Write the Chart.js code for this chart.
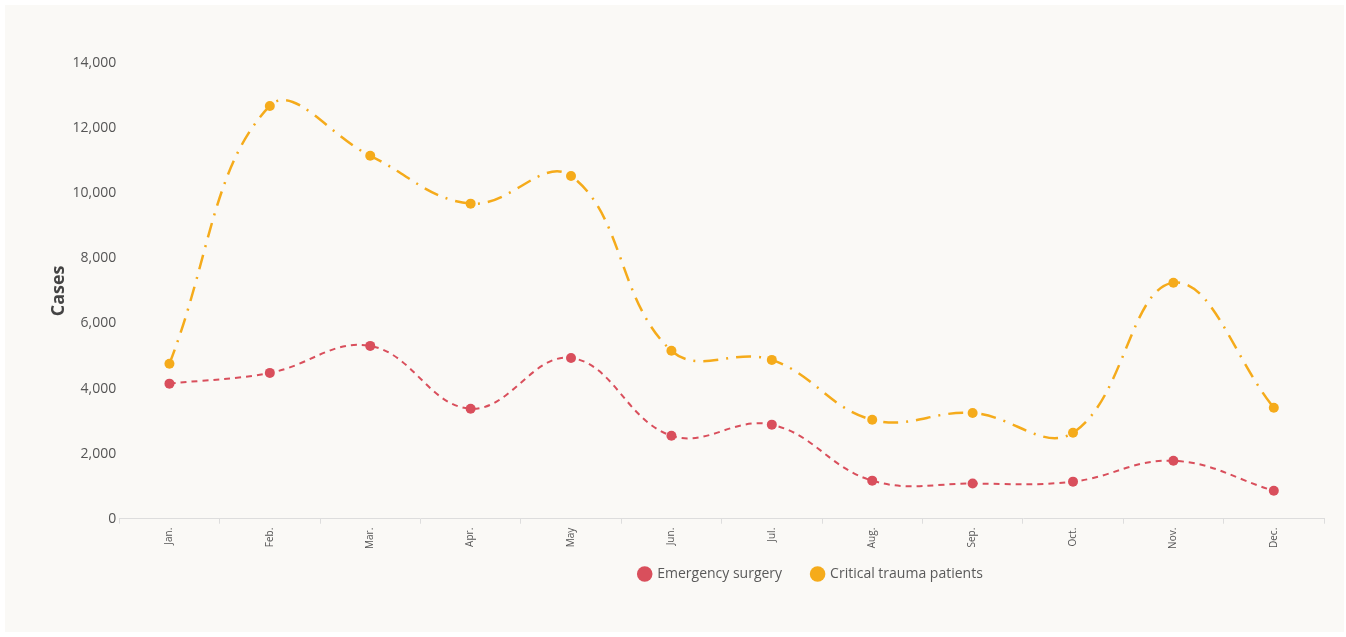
<!DOCTYPE html>
<html>
<head>
<meta charset="utf-8">
<script src="https://cdn.jsdelivr.net/npm/chart.js@4/dist/chart.umd.min.js"></script>
<style>
  html, body { margin: 0; padding: 0; background: #ffffff; }
  #panel { position: absolute; left: 5px; top: 5px; width: 1339px; height: 627px; background: #faf9f6; }
</style>
</head>
<body>
<div id="panel"><canvas id="grafico" width="1339" height="627"></canvas></div>
<script>
var meses = ['Jan.', 'Feb.', 'Mar.', 'Apr.', 'May', 'Jun.', 'Jul.', 'Aug.', 'Sep.', 'Oct.', 'Nov.', 'Dec.'];
var cirugiaUrgencia = [4150, 4480, 5310, 3380, 4940, 2550, 2890, 1170, 1080, 1140, 1780, 860];
var traumaCritico = [4760, 12680, 11150, 9680, 10530, 5160, 4880, 3040, 3250, 2640, 7250, 3410];
var ticksY = [0, 2000, 4000, 6000, 8000, 10000, 12000, 14000];

var rojo = '#d94f5c';
var naranja = '#f5ab1b';

// mover la leyenda como en la imagen
var moverLeyenda = {
    id: 'moverLeyenda',
    afterLayout: function(chart) {
        var dx = 125, dy = -16;
        chart.legend.left += dx;
        chart.legend.right += dx;
        chart.legend.top += dy;
        chart.legend.bottom += dy;
    }
};

var ctx = document.getElementById('grafico').getContext('2d');
var chart = new Chart(ctx, {
    type: 'line',
    data: {
        labels: meses,
        datasets: [{
            label: 'Emergency surgery',
            data: cirugiaUrgencia,
            borderColor: rojo,
            backgroundColor: rojo,
            borderWidth: 2,
            borderDash: [6, 5],
            pointRadius: 5,
            pointBorderWidth: 0,
            pointBackgroundColor: rojo,
            tension: 0.4
        }, {
            label: 'Critical trauma patients',
            data: traumaCritico,
            borderColor: naranja,
            backgroundColor: naranja,
            borderWidth: 2.5,
            borderDash: [15, 8, 2, 8],
            pointRadius: 5,
            pointBorderWidth: 0,
            pointBackgroundColor: naranja,
            tension: 0.4
        }]
    },
    options: {
        responsive: false,
        animation: false,
        layout: { padding: { left: 43, right: 20, top: 58, bottom: 25 } },
        plugins: {
            legend: {
                position: 'bottom',
                labels: {
                    usePointStyle: true,
                    pointStyle: 'circle',
                    boxWidth: 11,
                    boxHeight: 11,
                    padding: 30,
                    color: '#5a5a5a',
                    font: { family: 'Open Sans', size: 14 }
                }
            },
            tooltip: { enabled: false }
        },
        scales: {
            x: {
                offset: true,
                grid: {
                    display: true,
                    offset: true,
                    drawOnChartArea: false,
                    drawTicks: true,
                    tickLength: 5,
                    color: '#dddddd'
                },
                border: { display: true, color: '#dddddd' },
                ticks: {
                    minRotation: 90,
                    maxRotation: 90,
                    padding: 4,
                    color: '#555555',
                    font: { family: 'Open Sans', size: 10 }
                }
            },
            y: {
                min: 0,
                max: 14000,
                afterBuildTicks: function(axis) {
                    axis.ticks = ticksY.map(function(v) { return { value: v }; });
                },
                grid: { display: false, drawTicks: false },
                border: { display: false },
                ticks: {
                    padding: 3,
                    color: '#555555',
                    font: { family: 'Open Sans', size: 14 },
                    callback: function(v) { return v.toLocaleString('en-US'); }
                },
                title: {
                    display: true,
                    text: 'Cases',
                    color: '#444444',
                    padding: { top: 0, bottom: 0 },
                    font: { family: 'Open Sans', size: 18, weight: 'bold' }
                }
            }
        }
    },
    plugins: [moverLeyenda]
});
</script>
</body>
</html>
